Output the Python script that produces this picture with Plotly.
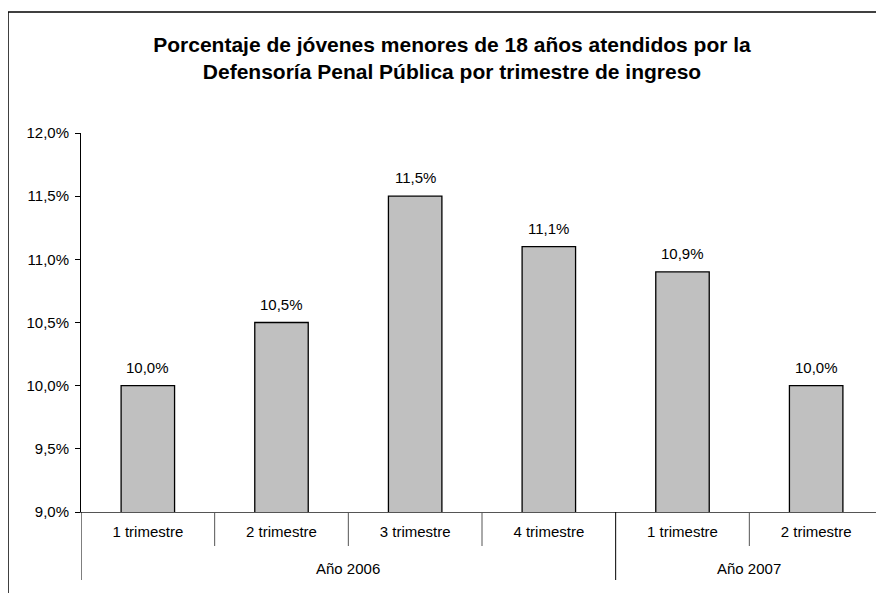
import plotly.graph_objects as go

# data
trimestres = ["1 trimestre", "2 trimestre", "3 trimestre", "4 trimestre", "1 trimestre", "2 trimestre"]
anios = ["Año 2006", "Año 2006", "Año 2006", "Año 2006", "Año 2007", "Año 2007"]
porcentajes = [10.0, 10.5, 11.5, 11.1, 10.9, 10.0]
y_ticks = [9.0, 9.5, 10.0, 10.5, 11.0, 11.5, 12.0]

FONT = "Arial, Liberation Sans, sans-serif"
W, H = 884, 593
OFF = 8  # page body margin of the html output
# plot area in screen pixels: x 81..883, y 133..512
L, T = 81 - OFF, 133 - OFF
pw, ph = 883 - 81, 512 - 133
R, B = W - L - pw, H - T - ph


def px_x(p):
    return (p - OFF - L) / pw


def px_y(p):
    return 1 - (p - OFF - T) / ph


def fmt(v):
    return f"{v:.1f}".replace(".", ",") + "%"


xs = list(range(len(porcentajes)))

fig = go.Figure()
fig.add_trace(go.Bar(
    x=xs, y=porcentajes, base=0,
    width=0.4,
    marker=dict(color="#C0C0C0", line=dict(color="#000000", width=1.3)),
    hoverinfo="skip",
))

# value labels above the bars
for x, v in zip(xs, porcentajes):
    fig.add_annotation(x=x, y=v, text=fmt(v), showarrow=False, yanchor="bottom",
                       yshift=8, font=dict(family=FONT, size=15, color="#000"))

shapes = []
# separators below the category axis
n = len(xs)
for i in range(n + 1):
    xb = i - 0.5
    year_break = i == 0 or i == n or anios[i] != anios[i - 1]
    y_end = px_y(580) if year_break else px_y(546)
    shapes.append(dict(type="line", xref="x", yref="paper", x0=xb, x1=xb, y0=0, y1=y_end,
                       line=dict(color="#000" if year_break else "#555", width=1)))

# year labels
groups = []
for i, a in enumerate(anios):
    if groups and groups[-1][0] == a:
        groups[-1][2] = i
    else:
        groups.append([a, i, i])
for a, i0, i1 in groups:
    fig.add_annotation(x=(i0 + i1) / 2, y=px_y(568), xref="x", yref="paper", text=a,
                       showarrow=False, yanchor="middle",
                       font=dict(family=FONT, size=15, color="#000"))

# outer chart border (cropped at right and bottom)
shapes.append(dict(type="line", xref="paper", yref="paper", x0=px_x(8), x1=px_x(900),
                   y0=px_y(12), y1=px_y(12), line=dict(color="#000", width=1.5)))
shapes.append(dict(type="line", xref="paper", yref="paper", x0=px_x(8), x1=px_x(8),
                   y0=px_y(12), y1=px_y(610), line=dict(color="#000", width=1.5)))

fig.update_layout(
    width=W, height=H,
    margin=dict(l=L, r=R, t=T, b=B),
    paper_bgcolor="white", plot_bgcolor="white",
    showlegend=False,
    title=dict(
        text="<b>Porcentaje de jóvenes menores de 18 años atendidos por la<br>Defensoría Penal Pública por trimestre de ingreso</b>",
        x=(452 - OFF) / W, xref="container", xanchor="center",
        y=1 - (52 - OFF) / H, yref="container", yanchor="middle",
        font=dict(family=FONT, size=21, color="#000"),
    ),
    shapes=shapes,
    font=dict(family=FONT, size=15, color="#000"),
)

fig.update_xaxes(
    range=[-0.5, n - 0.5], tickvals=xs, ticktext=trimestres, ticks="",
    ticklabelstandoff=6,
    showline=True, linecolor="#555", linewidth=1, showgrid=False, zeroline=False,
    tickfont=dict(family=FONT, size=15, color="#000"),
)
fig.update_yaxes(
    range=[9, 12], tickvals=y_ticks, ticktext=[fmt(v) for v in y_ticks],
    ticks="outside", ticklen=5, tickcolor="#000", ticklabelstandoff=3,
    showline=True, linecolor="#000", linewidth=1, showgrid=False, zeroline=False,
    tickfont=dict(family=FONT, size=15, color="#000"),
)

fig.write_html("out.html")
